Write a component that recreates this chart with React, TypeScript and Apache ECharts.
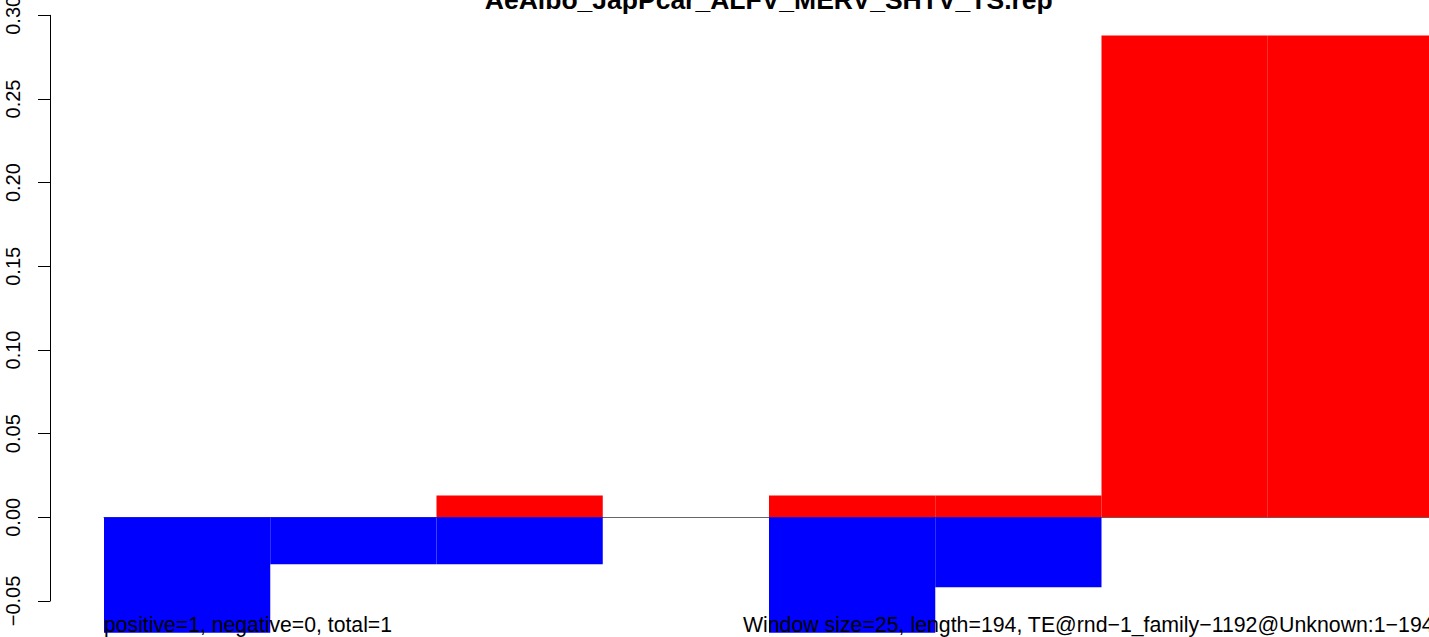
import React, { useEffect, useRef } from "react";
import * as echarts from "echarts";

const segments = ["1", "2", "3", "4", "5", "6", "7", "8"];
const negativeValues = [-0.069, -0.028, -0.028, 0, -0.069, -0.0418, 0, 0];
const positiveValues = [0, 0, 0.0131, 0, 0.0131, 0.0131, 0.288, 0.288];
const yMin = -0.05;
const yMax = 0.3;
const yInterval = 0.05;
const titleText = "AeAlbo_JapPcar_ALFV_MERV_SHTV_TS.rep";
const leftNote = "positive=1, negative=0, total=1";
const rightNote = "Window size=25, length=194, TE@rnd\u22121_family\u22121192@Unknown:1\u2212194";

const FONT = "'Liberation Sans', Arial, Helvetica, sans-serif";

export default function App() {
  const ref = useRef<HTMLDivElement>(null);
  useEffect(() => {
    if (!ref.current) return;
    const chart = echarts.init(ref.current, null, { renderer: "svg" });
    const W = 1434;
    const hideZero = (arr: number[]) => arr.map((v) => (v === 0 ? null : v));
    chart.setOption({
      animation: false,
      backgroundColor: "#ffffff",
      textStyle: { fontFamily: FONT },
      grid: [
        { left: 104, right: 0, top: 15.3, bottom: 2.5, outerBoundsMode: "none", containLabel: false },
        { left: 50, width: 100, top: 15.3, bottom: 36, outerBoundsMode: "none", containLabel: false },
      ],
      xAxis: [
        {
          type: "category",
          gridIndex: 0,
          data: segments,
          boundaryGap: true,
          axisLine: { show: true, onZero: true, lineStyle: { color: "#666666", width: 1 } },
          axisTick: { show: false },
          axisLabel: { show: false },
          splitLine: { show: false },
        },
        {
          type: "value",
          gridIndex: 1,
          show: false,
        },
      ],
      yAxis: [
        {
          type: "value",
          gridIndex: 0,
          min: -0.07,
          max: yMax,
          show: false,
          splitLine: { show: false },
        },
        {
          type: "value",
          gridIndex: 1,
          min: yMin,
          max: yMax,
          interval: yInterval,
          axisLine: { show: true, lineStyle: { color: "#000000", width: 1 } },
          axisTick: { show: true, length: 12, lineStyle: { color: "#000000", width: 1 } },
          axisLabel: {
            show: true,
            rotate: 90,
            margin: 27,
            fontSize: 20,
            color: "#000000",
            fontFamily: FONT,
            formatter: (v: number) => v.toFixed(2).replace("-", "\u2212"),
          },
          splitLine: { show: false },
        },
      ],
      series: [
        {
          name: "positive",
          type: "bar",
          xAxisIndex: 0,
          yAxisIndex: 0,
          data: hideZero(positiveValues),
          barWidth: "100%",
          barGap: "-100%",
          itemStyle: { color: "#ff0000", borderColor: "#ff0000", borderWidth: 1.5 },
        },
        {
          name: "negative",
          type: "bar",
          xAxisIndex: 0,
          yAxisIndex: 0,
          data: hideZero(negativeValues),
          barWidth: "100%",
          barGap: "-100%",
          itemStyle: { color: "#0000ff", borderColor: "#0000ff", borderWidth: 1.5 },
        },
      ],
      graphic: [
        {
          type: "text",
          x: 768.8,
          y: 0.3,
          z: 100,
          style: {
            text: titleText,
            fontSize: 26.5,
            fontWeight: "bold",
            fontFamily: FONT,
            fill: "#000000",
            align: "center",
            verticalAlign: "middle",
          },
        },
        {
          type: "text",
          x: 104,
          y: 624.7,
          z: 100,
          style: {
            text: leftNote,
            fontSize: 21.2,
            fontFamily: FONT,
            fill: "#000000",
            align: "left",
            verticalAlign: "middle",
          },
        },
        {
          type: "text",
          x: W - 0.4,
          y: 624.7,
          z: 100,
          style: {
            text: rightNote,
            fontSize: 21.3,
            fontFamily: FONT,
            fill: "#000000",
            align: "right",
            verticalAlign: "middle",
          },
        },
      ],
    });
    return () => chart.dispose();
  }, []);
  return (
    <div
      style={{
        position: "fixed",
        left: 0,
        top: 0,
        width: 1429,
        height: 637,
        overflow: "hidden",
        background: "#ffffff",
      }}
    >
      <div ref={ref} style={{ width: 1434, height: 637 }} />
    </div>
  );
}
